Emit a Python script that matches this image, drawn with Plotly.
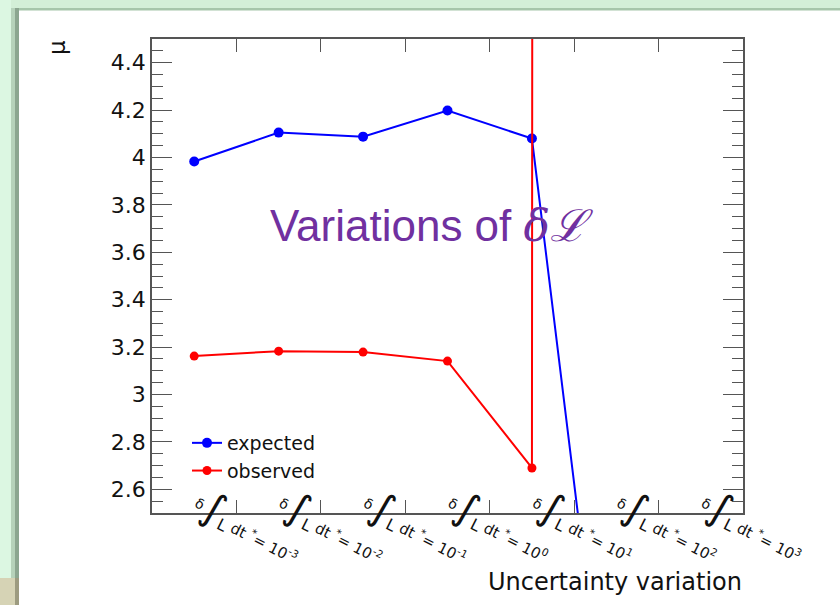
import plotly.graph_objects as go

# --- data -------------------------------------------------------------
bin_pos = [1, 2, 3, 4, 5, 6, 7]
exponents = ["-3", "-2", "-1", "0", "1", "2", "3"]
expected_mu = [3.983, 4.105, 4.088, 4.198, 4.080, 1.17, None]
observed_mu = [3.162, 3.183, 3.179, 3.141, 2.690, 500.0, None]
y_tick_vals = [2.6, 2.8, 3.0, 3.2, 3.4, 3.6, 3.8, 4.0, 4.2, 4.4]
y_tick_text = ["2.6", "2.8", "3", "3.2", "3.4", "3.6", "3.8", "4", "4.2", "4.4"]
bin_edges = [1.5, 2.5, 3.5, 4.5, 5.5, 6.5]

x_tick_text = [
    "<sup><span style=\"font-size:14px\">δ</span></sup>"
    "<span style=\"font-size:40px\">∫</span>"
    "<sub><span style=\"font-size:16px\">L</span></sub> dt <sup>*</sup>= 10<sup>%s</sup>" % e
    for e in exponents
]

# --- page geometry (px) -------------------------------------------------
W, H = 840, 607
L, R, T, B = 152, 743, 39, 513


def px(xp):
    return (xp - L) / (R - L)


def py(yp):
    return (B - yp) / (B - T)


ROOT_FONT = "DejaVu Sans"
AXIS_COLOR = "#555555"

fig = go.Figure()

fig.add_trace(go.Scatter(
    x=bin_pos, y=expected_mu, name="expected", mode="lines+markers",
    line=dict(color="#0000ff", width=2), marker=dict(color="#0000ff", size=10),
    connectgaps=False,
))
fig.add_trace(go.Scatter(
    x=bin_pos, y=observed_mu, name="observed", mode="lines+markers",
    line=dict(color="#ff0000", width=2), marker=dict(color="#ff0000", size=9),
    connectgaps=False,
))

# slide background: green frame around a white panel
shapes = [
    dict(x0=px(0), x1=px(W), y0=py(0), y1=py(8), fillcolor="#d3efd7"),
    dict(x0=px(0), x1=px(W), y0=py(8), y1=py(10.5), fillcolor="#a6c6aa"),
    dict(x0=px(0), x1=px(11), y0=py(0), y1=py(578), fillcolor="#dcf7e2"),
    dict(x0=px(11), x1=px(15), y0=py(8), y1=py(578), fillcolor="#b6d2ba"),
    dict(x0=px(15), x1=px(19), y0=py(8), y1=py(578), fillcolor="#8ca690"),
    dict(x0=px(0), x1=px(15), y0=py(578), y1=py(605), fillcolor="#d6d3b5"),
    dict(x0=px(15), x1=px(19), y0=py(578), y1=py(605), fillcolor="#9d9b80"),
]
for s in shapes:
    s.update(type="rect", xref="paper", yref="paper", line=dict(width=0), layer="below")

annotations = [
    dict(text="Variations of <span style=\"font-family:DejaVu Serif\"><i>δℒ</i></span>",
         x=px(268), y=py(226), xanchor="left", yanchor="middle", showarrow=False,
         font=dict(family="Liberation Sans", size=44, color="#7030a0")),
    dict(text="Uncertainty variation", x=px(744), y=py(582), xanchor="right",
         yanchor="middle", showarrow=False,
         font=dict(family=ROOT_FONT, size=24, color="#111111")),
    dict(text="μ", x=px(57), y=py(48), xanchor="center", yanchor="middle",
         textangle=-90, showarrow=False,
         font=dict(family=ROOT_FONT, size=23, color="#111111")),
]
for a in annotations:
    a.update(xref="paper", yref="paper")

fig.update_layout(
    width=W, height=H,
    margin=dict(l=L, r=W - R, t=T, b=H - B, pad=0),
    paper_bgcolor="white", plot_bgcolor="white",
    shapes=shapes, annotations=annotations,
    showlegend=True,
    legend=dict(x=px(187), y=py(424), xanchor="left", yanchor="top",
                bgcolor="rgba(0,0,0,0)", borderwidth=0,
                font=dict(family=ROOT_FONT, size=19, color="#111111")),
    xaxis=dict(
        range=[0.5, 7.5], tickmode="array", tickvals=bin_pos, ticktext=x_tick_text,
        tickangle=27, ticks="", showgrid=False, zeroline=False,
        showline=True, linecolor=AXIS_COLOR, linewidth=1.5, mirror="allticks",
        tickfont=dict(family=ROOT_FONT, size=15, color="#111111"),
        ticklabelstandoff=-20,
        minor=dict(tickmode="array", tickvals=bin_edges, ticks="inside",
                   ticklen=13, tickwidth=1.3, tickcolor=AXIS_COLOR, showgrid=False),
    ),
    yaxis=dict(
        range=[2.5, 4.5], tickmode="array", tickvals=y_tick_vals, ticktext=y_tick_text,
        ticks="inside", ticklen=20, tickwidth=1.3, tickcolor=AXIS_COLOR,
        showgrid=False, zeroline=False,
        showline=True, linecolor=AXIS_COLOR, linewidth=1.5, mirror="allticks",
        tickfont=dict(family=ROOT_FONT, size=22, color="#111111"),
        minor=dict(dtick=0.05, tick0=2.5, ticks="inside", ticklen=11, tickwidth=1.3,
                   tickcolor=AXIS_COLOR, showgrid=False),
    ),
)

fig.write_html("out.html")
